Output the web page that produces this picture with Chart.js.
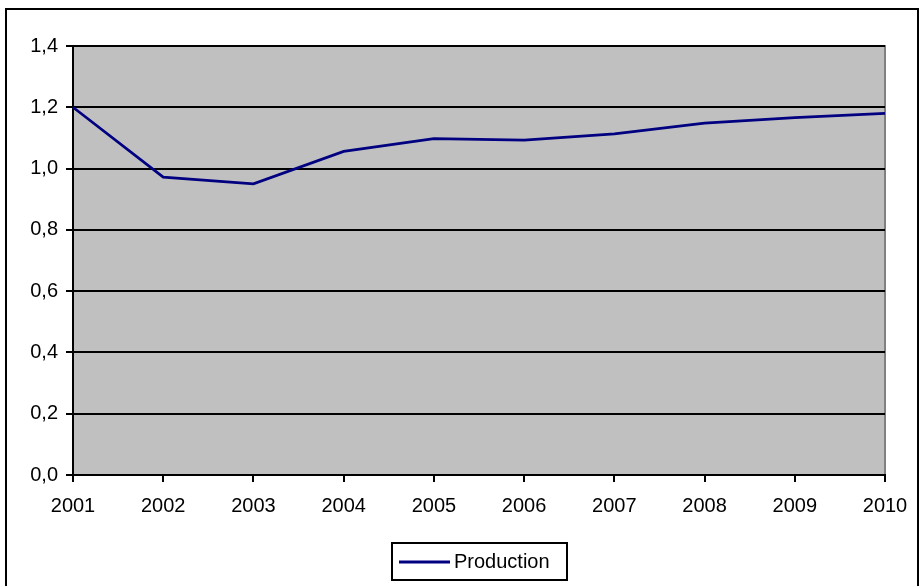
<!DOCTYPE html>
<html>
<head>
<meta charset="utf-8">
<script src="https://cdn.jsdelivr.net/npm/chart.js@4/dist/chart.umd.min.js"></script>
<style>
html,body{margin:0;padding:0;background:#fff;}
#wrap{width:924px;height:586px;position:relative;}
</style>
</head>
<body>
<div id="wrap"><canvas id="c" width="924" height="586"></canvas></div>
<script>
const years = ['2001','2002','2003','2004','2005','2006','2007','2008','2009','2010'];
const production = [1.20, 0.972, 0.950, 1.056, 1.098, 1.093, 1.113, 1.148, 1.166, 1.180];
const seriesName = 'Production';
const yMin = 0, yMax = 1.4, yStep = 0.2;

const FONT = "'Liberation Sans', Arial, sans-serif";
const LINE = '#000080';

const decor = {
  id: 'decor',
  beforeDraw(chart) {
    const ctx = chart.ctx, a = chart.chartArea;
    ctx.save();
    ctx.fillStyle = '#fff';
    ctx.fillRect(0, 0, chart.width, chart.height);
    ctx.fillStyle = '#C0C0C0';
    ctx.fillRect(a.left, a.top, a.right - a.left, a.bottom - a.top);
    ctx.strokeStyle = '#808080';
    ctx.lineWidth = 2;
    ctx.beginPath();
    ctx.moveTo(a.left, a.top); ctx.lineTo(a.right, a.top); ctx.lineTo(a.right, a.bottom);
    ctx.stroke();
    ctx.restore();
  },
  afterDraw(chart) {
    const ctx = chart.ctx;
    ctx.save();
    ctx.strokeStyle = '#000';
    ctx.lineWidth = 2;
    ctx.strokeRect(6, 9, 912, 590);
    ctx.fillStyle = '#fff';
    ctx.fillRect(392, 543, 175, 37);
    ctx.strokeRect(392, 543, 175, 37);
    ctx.strokeStyle = LINE;
    ctx.lineWidth = 3;
    ctx.beginPath(); ctx.moveTo(399, 562); ctx.lineTo(450, 562); ctx.stroke();
    ctx.fillStyle = '#000';
    ctx.font = '20px ' + FONT;
    ctx.textBaseline = 'middle';
    ctx.textAlign = 'left';
    ctx.fillText(chart.data.datasets[0].label, 454, 562);
    ctx.restore();
  }
};

new Chart(document.getElementById('c'), {
  type: 'line',
  data: {
    labels: years,
    datasets: [{
      label: seriesName,
      data: production,
      borderColor: LINE,
      borderWidth: 2.7,
      pointRadius: 0,
      tension: 0,
      fill: false
    }]
  },
  options: {
    responsive: false,
    animation: false,
    devicePixelRatio: 1,
    layout: { padding: { left: 0, top: 46, right: 39, bottom: 0 } },
    plugins: { legend: { display: false }, tooltip: { enabled: false } },
    scales: {
      x: {
        type: 'category',
        offset: false,
        afterFit(s) { s.height = 111; },
        grid: { drawOnChartArea: false, drawTicks: true, tickLength: 7, color: '#000', lineWidth: 2 },
        border: { color: '#000', width: 2 },
        ticks: { color: '#000', font: { family: FONT, size: 20 }, padding: 12, maxRotation: 0, autoSkip: false }
      },
      y: {
        min: yMin, max: yMax,
        afterFit(s) { s.width = 73; },
        grid: { color: '#000', lineWidth: 2, tickLength: 7, drawTicks: true },
        border: { color: '#000', width: 2 },
        ticks: {
          stepSize: yStep, color: '#000', font: { family: FONT, size: 20 }, padding: 8,
          callback: v => Number(v).toFixed(1).replace('.', ',')
        }
      }
    }
  },
  plugins: [decor]
});
</script>
</body>
</html>
